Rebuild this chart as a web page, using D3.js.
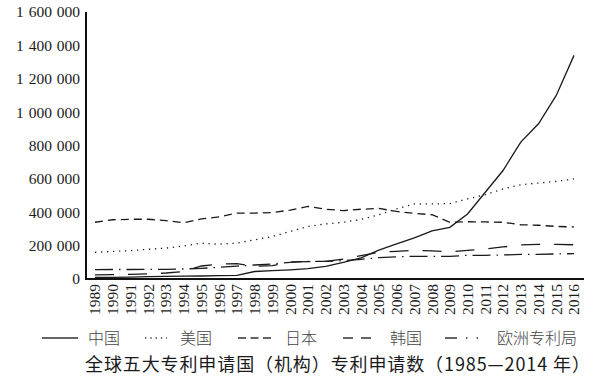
<!DOCTYPE html>
<html>
<head>
<meta charset="utf-8">
<script src="https://cdn.jsdelivr.net/npm/d3@7"></script>
<style>
  body { margin: 0; background: #fff; }
  svg { display: block; }
</style>
</head>
<body>
<div id="chart"></div>
<script>
// years on the x axis
const years = d3.range(1989, 2017)

// applications per year
const china = [10000, 10000, 11000, 14000, 16000, 17000, 18000, 20000, 22000, 45000,
  50000, 55000, 62000, 75000, 100000, 127000, 173000, 210000, 246000, 289000,
  310000, 390000, 520000, 650000, 820000, 930000, 1100000, 1340000]
const usa = [160000, 165000, 170000, 178000, 185000, 198000, 215000, 208000, 215000, 235000,
  255000, 285000, 315000, 330000, 340000, 357000, 385000, 420000, 450000, 450000,
  452000, 480000, 505000, 540000, 565000, 575000, 585000, 600000]
const japan = [340000, 355000, 358000, 358000, 350000, 337000, 360000, 372000, 395000, 395000,
  398000, 413000, 435000, 418000, 410000, 418000, 423000, 405000, 393000, 385000,
  340000, 343000, 342000, 340000, 325000, 322000, 315000, 312000]
const korea = [25000, 26000, 28000, 31000, 36000, 45000, 78000, 90000, 92000, 76000,
  80000, 102000, 104000, 106000, 119000, 140000, 160000, 166000, 172000, 168000,
  163000, 172000, 180000, 192000, 204000, 207000, 208000, 205000]
const epo = [56000, 57000, 57000, 58000, 58000, 60000, 64000, 70000, 77000, 84000,
  90000, 100000, 106000, 106000, 110000, 118000, 128000, 133000, 136000, 136000,
  136000, 142000, 142000, 144000, 147000, 148000, 150000, 152000]

const seriesNames = ['中国', '美国', '日本', '韩国', '欧洲专利局']
const yTicks = [0, 200000, 400000, 600000, 800000, 1000000, 1200000, 1400000, 1600000]
const title = '全球五大专利申请国（机构）专利申请数（1985—2014 年）'

const width = 600
const height = 390

const series = [
  { name: seriesNames[0], values: china, dash: null },
  { name: seriesNames[1], values: usa, dash: '1.3,4.7' },
  { name: seriesNames[2], values: japan, dash: '8,5' },
  { name: seriesNames[3], values: korea, dash: '19,14' },
  { name: seriesNames[4], values: epo, dash: '18,6,1.5,6' }
]

const svg = d3.select('#chart')
  .append('svg')
  .attr('width', width)
  .attr('height', height)

const xScale = d3.scalePoint()
  .domain(years)
  .range([95, 574])

const yScale = d3.scaleLinear()
  .domain([0, 1600000])
  .range([279, 12])

// format like "1 600 000"
const fmt = v => d3.format(',')(v).replace(/,/g, ' ')

// y tick labels
svg.append('g')
  .selectAll('text')
  .data(yTicks)
  .enter()
  .append('text')
  .attr('x', 80)
  .attr('y', d => yScale(d))
  .attr('dy', '0.35em')
  .attr('text-anchor', 'end')
  .style('font-family', '"Liberation Serif", "DejaVu Serif", serif')
  .style('font-size', '15.5px')
  .style('word-spacing', '1px')
  .attr('fill', '#1a1a1a')
  .text(d => fmt(d))

// year labels, rotated
svg.append('g')
  .selectAll('text')
  .data(years)
  .enter()
  .append('text')
  .attr('transform', d => 'translate(' + xScale(d) + ',284) rotate(-90)')
  .attr('dy', '0.35em')
  .attr('text-anchor', 'end')
  .style('font-family', '"Liberation Serif", "DejaVu Serif", serif')
  .style('font-size', '15.5px')
  .attr('fill', '#1a1a1a')
  .text(d => d)

// the lines
const line = d3.line()
  .x((d, i) => xScale(years[i]))
  .y(d => yScale(d))

svg.append('g')
  .selectAll('path')
  .data(series)
  .enter()
  .append('path')
  .attr('d', d => line(d.values))
  .attr('fill', 'none')
  .attr('stroke', '#1a1a1a')
  .attr('stroke-width', 1.3)
  .attr('stroke-dasharray', d => d.dash)

// axis lines (no ticks)
svg.append('path')
  .attr('d', 'M86,12V279H584')
  .attr('fill', 'none')
  .attr('stroke', '#111')
  .attr('stroke-width', 2)

// legend
const legendItems = [
  { x1: 42, x2: 78, tx: 88, dash: null },
  { x1: 145, x2: 167, tx: 180, dash: '1.3,4' },
  { x1: 238, x2: 271, tx: 285, dash: '8,4.5' },
  { x1: 343, x2: 371, tx: 390, dash: '10,8' },
  { x1: 445, x2: 490, tx: 497, dash: '12,9,1.5,9,1.5,20' }
]

const legend = svg.append('g')
  .selectAll('g')
  .data(legendItems)
  .enter()
  .append('g')

legend.append('line')
  .attr('x1', d => d.x1)
  .attr('x2', d => d.x2)
  .attr('y1', 338)
  .attr('y2', 338)
  .attr('stroke', '#333')
  .attr('stroke-width', 1.4)
  .attr('stroke-dasharray', d => d.dash)

legend.append('text')
  .attr('x', d => d.tx)
  .attr('y', 338)
  .attr('dy', '0.35em')
  .style('font-family', '"Noto Sans CJK SC", sans-serif')
  .style('font-size', '16px')
  .style('font-weight', 300)
  .attr('fill', '#444')
  .text((d, i) => seriesNames[i])

// title
svg.append('text')
  .attr('x', 85)
  .attr('y', 365)
  .attr('dy', '0.35em')
  .attr('textLength', 505)
  .attr('lengthAdjust', 'spacing')
  .style('font-family', '"Noto Sans CJK SC", sans-serif')
  .style('font-size', '18px')
  .style('font-weight', 400)
  .attr('fill', '#1a1a1a')
  .text(title)
</script>
</body>
</html>
